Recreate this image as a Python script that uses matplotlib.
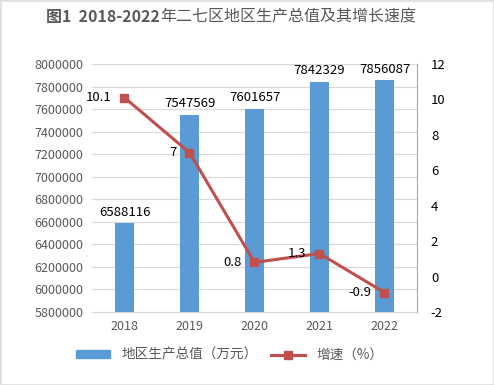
import matplotlib
matplotlib.use("Agg")
from matplotlib import pyplot as plt
from matplotlib.patches import Rectangle
from matplotlib.lines import Line2D

plt.rcParams['font.family'] = ['Noto Sans CJK SC', 'DejaVu Sans']
plt.rcParams['axes.unicode_minus'] = False

years = ["2018", "2019", "2020", "2021", "2022"]
gdp = [6588116, 7547569, 7601657, 7842329, 7856087]
growth = [10.1, 7, 0.8, 1.3, -0.9]
growth_labels = ["10.1", "7", "0.8", "1.3", "-0.9"]

bar_color = "#5B9BD5"
line_color = "#C0504D"
grey = "#595959"

fig = plt.figure(figsize=(4.94, 3.85), dpi=100)
ax = fig.add_axes([92/494, 1-312/385, 325/494, 248/385])
ax2 = ax.twinx()

x = list(range(len(years)))
ax.bar(x, gdp, width=0.3, color=bar_color, zorder=2)
ax.set_ylim(5800000, 8000000)
ax.set_xlim(-0.5, 4.5)
ax.set_yticks(range(5800000, 8000001, 200000))
ax.set_yticklabels([str(v) for v in range(5800000, 8000001, 200000)])
ax.yaxis.grid(True, color="#D9D9D9", linewidth=0.8, zorder=0)
ax.set_axisbelow(True)
ax.set_xticks(x)
ax.set_xticklabels(years)
ax.tick_params(axis="both", length=0, labelsize=9, labelcolor=grey, pad=6)
for s in ["top", "left", "right"]:
    ax.spines[s].set_visible(False)
ax.spines["bottom"].set_color("#D9D9D9")

for xi, v in zip(x, gdp):
    ax.text(xi, v + 40000, str(v), ha="center", va="bottom", fontsize=9.5, color="black")

ax2.plot(x, growth, color=line_color, linewidth=2.2, marker="s", markersize=6, zorder=3)
ax2.set_ylim(-2, 12)
ax2.set_yticks(range(-2, 13, 2))
ax2.tick_params(axis="y", length=0, labelsize=9.5, labelcolor="black", pad=10)
for s in ["top", "left", "bottom"]:
    ax2.spines[s].set_visible(False)
ax2.spines["right"].set_color("#A6A6A6")

for xi, v, t in zip(x, growth, growth_labels):
    ax2.text(xi - 0.2, v, t, ha="right", va="center", fontsize=9.5, color="black")

# title: bold prefix, regular Chinese part
t1 = fig.text(46/494, 0.955, "图1  2018-2022", ha="left", va="center",
              fontsize=11.5, color=grey, fontweight="bold")
fig.canvas.draw()
bb = t1.get_window_extent()
fig.text(bb.x1 / fig.bbox.width, 0.955, "年二七区地区生产总值及其增长速度",
         ha="left", va="center", fontsize=11.5, color=grey)

handles = [Rectangle((0, 0), 1, 1, color=bar_color),
           Line2D([0], [0], color=line_color, linewidth=2.2, marker="s", markersize=6)]
fig.legend(handles, ["地区生产总值（万元）", "增速（%）"], loc="center",
           bbox_to_anchor=(0.465, 0.078), ncol=2, frameon=False, fontsize=9.8,
           labelcolor=grey, handlelength=2.5, handleheight=0.5, columnspacing=1.0)

# light frame of the screenshot
fig.add_artist(Rectangle((0, 0), 1, 1, transform=fig.transFigure, fill=False,
                         edgecolor="#E0E0E0", linewidth=2))

fig.savefig("out.png", dpi=100)
